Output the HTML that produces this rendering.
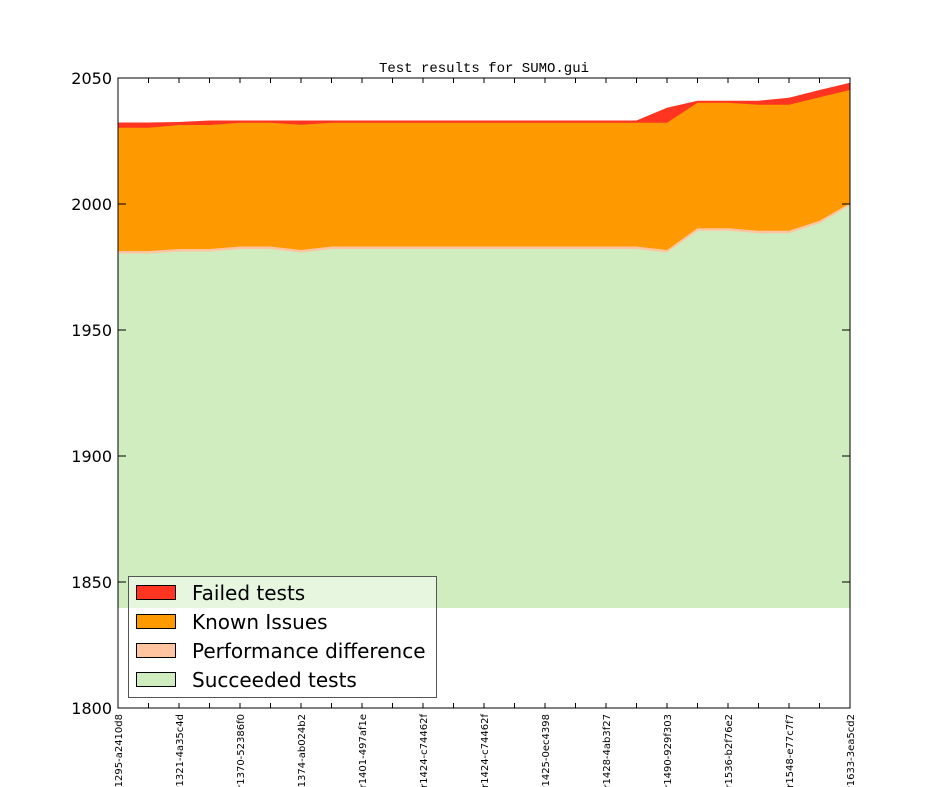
<!DOCTYPE html>
<html><head><meta charset="utf-8"><style>
html,body{margin:0;padding:0;background:#fff;}
svg{display:block}
</style></head><body>
<svg width="944" height="787" viewBox="0 0 944 787" xmlns="http://www.w3.org/2000/svg">
<rect width="944" height="787" fill="#fff"/>
<text x="484" y="72" font-family="Liberation Mono, monospace" font-size="14" text-anchor="middle">Test results for SUMO.gui</text>
<g>
<polygon fill="#ff3521" points="118,122.5 148.5,122.5 179,122 209.5,120.5 240,120.5 636.5,120.5 667,107.7 697.5,100.7 728,100.7 758.5,100.7 789,97.7 819.5,90 850,82.7 850,608 118,608"/>
<polygon fill="#ff9900" points="118,127.7 148.5,127.7 179,125 209.5,125 240,122.7 270.5,122.7 301,124.7 331.5,122.7 667,122.7 697.5,102.7 728,102.7 758.5,104.7 789,104.7 819.5,97.3 850,90 850,608 118,608"/>
<polygon fill="#ffc4a0" points="118,251 148.5,251 179,249 209.5,249 240,246.5 270.5,246.5 301,250 331.5,246.5 636.5,246.5 667,250 697.5,228.3 728,228.3 758.5,230.7 789,230.7 819.5,220.7 850,203.3 850,608 118,608"/>
<polygon fill="#cfedbe" points="118,253.5 148.5,253.5 179,251.5 209.5,251.5 240,249 270.5,249 301,252.5 331.5,249 636.5,249 667,252.5 697.5,230.8 728,230.8 758.5,233.2 789,233.2 819.5,223.2 850,205.3 850,608 118,608"/>
</g>
<rect x="118" y="78" width="732" height="630" fill="none" stroke="#000" stroke-width="1"/>
<g stroke="#000" stroke-width="1">
<path d="M118,78h8M850,78h-8M118,204h8M850,204h-8M118,330h8M850,330h-8M118,456h8M850,456h-8M118,582h8M850,582h-8M118,708h8M850,708h-8"/>
<path d="M148.5,708v-5M179,708v-5M209.5,708v-5M240,708v-5M270.5,708v-5M301,708v-5M331.5,708v-5M362,708v-5M392.5,708v-5M423,708v-5M453.5,708v-5M484,708v-5M514.5,708v-5M545,708v-5M575.5,708v-5M606,708v-5M636.5,708v-5M667,708v-5M697.5,708v-5M728,708v-5M758.5,708v-5M789,708v-5M819.5,708v-5"/>
<path d="M148.5,78v5M179,78v5M209.5,78v5M240,78v5M270.5,78v5M301,78v5M331.5,78v5M362,78v5M392.5,78v5M423,78v5M453.5,78v5M484,78v5M514.5,78v5M545,78v5M575.5,78v5M606,78v5M636.5,78v5M667,78v5M697.5,78v5M728,78v5M758.5,78v5M789,78v5M819.5,78v5"/>
</g>
<g font-family="DejaVu Sans, Liberation Sans, sans-serif" font-size="16" text-anchor="end">
<text x="112" y="84">2050</text><text x="112" y="210">2000</text><text x="112" y="336">1950</text>
<text x="112" y="462">1900</text><text x="112" y="588">1850</text><text x="112" y="714">1800</text>
</g>
<g font-family="DejaVu Sans, Liberation Sans, sans-serif" font-size="10" text-anchor="end">
<text transform="translate(122,714) rotate(-90)">r1295-a2410d8</text>
<text transform="translate(183,714) rotate(-90)">r1321-4a35c4d</text>
<text transform="translate(244,714) rotate(-90)">r1370-52386f0</text>
<text transform="translate(305,714) rotate(-90)">r1374-ab024b2</text>
<text transform="translate(366,714) rotate(-90)">r1401-497af1e</text>
<text transform="translate(427,714) rotate(-90)">r1424-c74462f</text>
<text transform="translate(488,714) rotate(-90)">r1424-c74462f</text>
<text transform="translate(549,714) rotate(-90)">r1425-0ec4398</text>
<text transform="translate(610,714) rotate(-90)">r1428-4ab3f27</text>
<text transform="translate(671,714) rotate(-90)">r1490-929f303</text>
<text transform="translate(732,714) rotate(-90)">r1536-b2f76e2</text>
<text transform="translate(793,714) rotate(-90)">r1548-e77c7f7</text>
<text transform="translate(854,714) rotate(-90)">r1633-3ea5cd2</text>
</g>
<rect x="128.5" y="576.5" width="308" height="121" fill="#fff" fill-opacity="0.5" stroke="#555" stroke-width="1"/>
<g stroke="#000" stroke-width="1">
<rect x="136.5" y="585.5" width="39" height="14" fill="#ff3521"/>
<rect x="136.5" y="614.5" width="39" height="14" fill="#ff9900"/>
<rect x="136.5" y="643.5" width="39" height="14" fill="#ffc4a0"/>
<rect x="136.5" y="672.5" width="39" height="14" fill="#cfedbe"/>
</g>
<g font-family="DejaVu Sans, Liberation Sans, sans-serif" font-size="20">
<text x="192" y="600">Failed tests</text>
<text x="192" y="629">Known Issues</text>
<text x="192" y="658">Performance difference</text>
<text x="192" y="687">Succeeded tests</text>
</g>
</svg>
</body></html>
